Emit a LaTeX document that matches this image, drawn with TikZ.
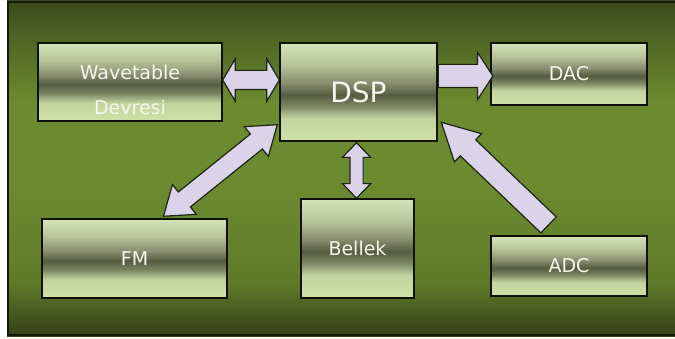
\documentclass[tikz,border=0pt]{standalone}
\usepackage{fontspec}
\setmainfont{DejaVu Sans}
\usetikzlibrary{shapes.arrows,calc}

\definecolor{bgA}{HTML}{363F18}
\definecolor{bgB}{HTML}{4E6223}
\definecolor{bgC}{HTML}{6C8B30}
\definecolor{bgD}{HTML}{5F7B29}
\definecolor{bgE}{HTML}{3C481C}
\definecolor{frame}{HTML}{141A0A}

\definecolor{bxTop}{HTML}{D6E2B8}
\definecolor{bxB}{HTML}{B8C49A}
\definecolor{bxC}{HTML}{8A9070}
\definecolor{bxDark}{HTML}{565C40}
\definecolor{bxE}{HTML}{7A8460}
\definecolor{bxF}{HTML}{C4D4A0}
\definecolor{bxBot}{HTML}{D0E0A8}
\definecolor{bxLine}{HTML}{0E1208}
\definecolor{lbl}{HTML}{F6F6EC}

\definecolor{arrFill}{HTML}{DAD3EA}
\definecolor{arrLine}{HTML}{1C2412}

\pgfdeclareverticalshading{bgshade}{100bp}{color(0bp)=(bgA); color(25bp)=(bgA); color(33bp)=(bgD); color(48bp)=(bgC); color(60bp)=(bgC); color(70bp)=(bgB); color(75bp)=(bgE); color(100bp)=(bgE)}
\pgfdeclareverticalshading{boxshade}{100bp}{color(0bp)=(bxBot); color(25bp)=(bxBot); color(36.5bp)=(bxF); color(43bp)=(bxE); color(48.5bp)=(bxDark); color(55bp)=(bxC); color(64bp)=(bxB); color(75bp)=(bxTop); color(100bp)=(bxTop)}

\tikzset{
  blk/.style={rectangle, draw=bxLine, line width=1.5pt, shading=boxshade,
    text=lbl, font=\fontsize{19}{22}\selectfont, inner sep=0pt},
  lbltext/.style={text=lbl, align=center, font=\fontsize{19}{35}\selectfont, inner sep=0pt},
  arrbase/.style={draw=arrLine, line width=1.2pt, fill=arrFill, inner xsep=0pt, minimum width=1pt},
  darrW/.style={arrbase, double arrow, inner ysep=9pt, double arrow head extend=11.5pt, double arrow tip angle=119},
  sarrDAC/.style={arrbase, single arrow, inner ysep=11pt, single arrow head extend=12pt, single arrow tip angle=114},
  darrB/.style={arrbase, double arrow, inner ysep=6pt, double arrow head extend=7.5pt, double arrow tip angle=88},
  darrF/.style={arrbase, double arrow, inner ysep=9pt, double arrow head extend=9.5pt, double arrow tip angle=71},
  sarrADC/.style={arrbase, single arrow, inner ysep=10.5pt, single arrow head extend=8.5pt, single arrow tip angle=56}
}

% double block arrow centred between two points
\newcommand\dblockarrow[4]{%
  \path let \p1=(#3), \p2=(#4), \n1={veclen(\x2-\x1,\y2-\y1)}, \n2={atan2(\y2-\y1,\x2-\x1)} in
    node[#1, minimum height=\n1, rotate=\n2] (#2) at ($(#3)!0.5!(#4)$) {};}
% single block arrow from tail point to tip point
\newcommand\sblockarrow[4]{%
  \path let \p1=(#3), \p2=(#4), \n1={veclen(\x2-\x1,\y2-\y1)}, \n2={atan2(\y2-\y1,\x2-\x1)} in
    node[#1, minimum height=\n1, rotate=\n2, anchor=tail] (#2) at (#3) {};}

\begin{document}
\begin{tikzpicture}[x=1pt,y=-1pt]
\useasboundingbox (0,0) rectangle (675,339);
\fill[white] (0,0) rectangle (675,339);
\path[shading=bgshade] (7,1) rectangle (675,336);
\draw[frame, line width=1.6pt] (7.8,1.8) rectangle (676,335.2);

% boxes
\node[blk, minimum width=184pt, minimum height=78pt] (wav) at (130,82) {};
\node[lbltext] (wavtxt) at (130,90) {Wavetable\\Devresi};
\node[blk, minimum width=157pt, minimum height=98pt, font=\fontsize{28}{32}\selectfont] (dsp) at (358.5,92) {DSP};
\node[blk, minimum width=156pt, minimum height=62pt] (dac) at (569,74) {DAC};
\node[blk, minimum width=185pt, minimum height=79pt] (fm) at (134.5,258.5) {FM};
\node[blk, minimum width=113pt, minimum height=99pt] (bel) at (357.5,248.5) {Bellek};
\node[blk, minimum width=156pt, minimum height=60pt] (adc) at (569,266) {ADC};

% arrow end points
\coordinate (w1) at ($(wav.east)+(0,-2)$);
\coordinate (w2) at (dsp.west |- w1);
\coordinate (d1) at ($(dsp.east)+(0,-16)$);
\coordinate (d2) at ($(dac.west |- d1)+(2,0)$);
\coordinate (b1) at ($(dsp.south)+(-2,1)$);
\coordinate (b2) at (bel.north -| b1);
\coordinate (f1) at ($(fm.north)+(29,-2)$);
\coordinate (f2) at ($(dsp.south west)+(-2,-17)$);
\coordinate (a1) at ($(adc.north)+(-20,-10)$);
\coordinate (a2) at ($(dsp.south east)+(4,-19)$);

\dblockarrow{darrW}{wavdsp}{w1}{w2}
\sblockarrow{sarrDAC}{dspdac}{d1}{d2}
\dblockarrow{darrB}{dspbel}{b1}{b2}
\dblockarrow{darrF}{fmdsp}{f1}{f2}
\sblockarrow{sarrADC}{adcdsp}{a1}{a2}
\end{tikzpicture}
\end{document}
